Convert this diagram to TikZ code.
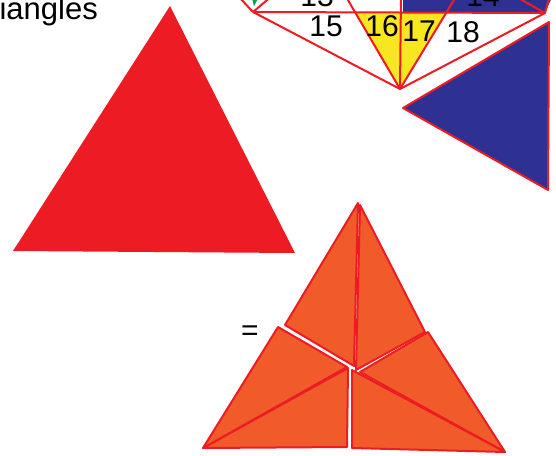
\documentclass[tikz,border=0pt]{standalone}
\usepackage{fontspec}
\setmainfont{Liberation Sans}
\usetikzlibrary{calc}
\definecolor{triRed}{RGB}{237,28,36}
\definecolor{triOrange}{RGB}{241,90,41}
\definecolor{triBlue}{RGB}{46,49,146}
\definecolor{triYellow}{RGB}{248,230,32}
\definecolor{triGreen}{RGB}{0,166,81}

\begin{document}
\begin{tikzpicture}[x=1pt, y=-1pt, line join=round,
  edge/.style={draw=triRed, line width=2pt},
  piece/.style={fill=triOrange, draw=triRed, line width=2pt},
  num/.style={font=\fontsize{30}{30}\selectfont, inner sep=0pt}]
  \useasboundingbox (0,0) rectangle (556,455);
  \clip (0,0) rectangle (556,455);
  % title, cut off at the left
  \node[anchor=base east, font=\fontsize{31}{31}\selectfont, inner sep=0pt] (title) at (98,19) {triangles};
  % whole red triangle
  \fill[triRed] (170,6) -- (13,251) -- (295,253) -- cycle;
  % blue piece
  \filldraw[fill=triBlue, edge] (403,108) -- (549,22) -- (548,190) -- cycle;
  % numbered pieces at the top
  \fill[triBlue] (403,-5) -- (403,12) -- (545,13) -- (553,-5) -- cycle;
  \fill[triGreen] (251,-5) -- (260,-5) -- (254,6) -- cycle;
  \fill[triYellow] (355,12) -- (447,12) -- (400,89) -- cycle;
  \draw[edge] (253,12) -- (545,13);
  \draw[edge] (253,12) -- (400,89) -- (545,13);
  \draw[edge] (240,-2) -- (253,12) -- (273,-5);
  \draw[edge] (513,-5) -- (545,13) -- (550,-5);
  \draw[edge] (400,89) -- (401,-5);
  \draw[edge] (400,89) -- (345,-5);
  \draw[edge] (400,89) -- (457,-5);
  \node[num] (n13) at (317,-4) {13};
  \node[num] (n14) at (483,-4) {14};
  \node[num] (n15) at (326,26) {15};
  \node[num] (n16) at (382,26) {16};
  \node[num] (n17) at (419,31) {17};
  \node[num] (n18) at (463,32) {18};
  % equals sign
  \node[num] (eq) at (250,333) {=};
  % orange triangle cut into six pieces
  \filldraw[piece] (358,203) -- (285,325) -- (354,366) -- cycle;
  \filldraw[piece] (360,205) -- (425,332) -- (356,370) -- cycle;
  \filldraw[piece] (428,332) -- (360,372) -- (505,452) -- cycle;
  \filldraw[piece] (352,370) -- (352,448) -- (505,452) -- cycle;
  \filldraw[piece] (348,368) -- (203,448) -- (347,447) -- cycle;
  \filldraw[piece] (278,327) -- (347,367) -- (203,448) -- cycle;
\end{tikzpicture}
\end{document}
